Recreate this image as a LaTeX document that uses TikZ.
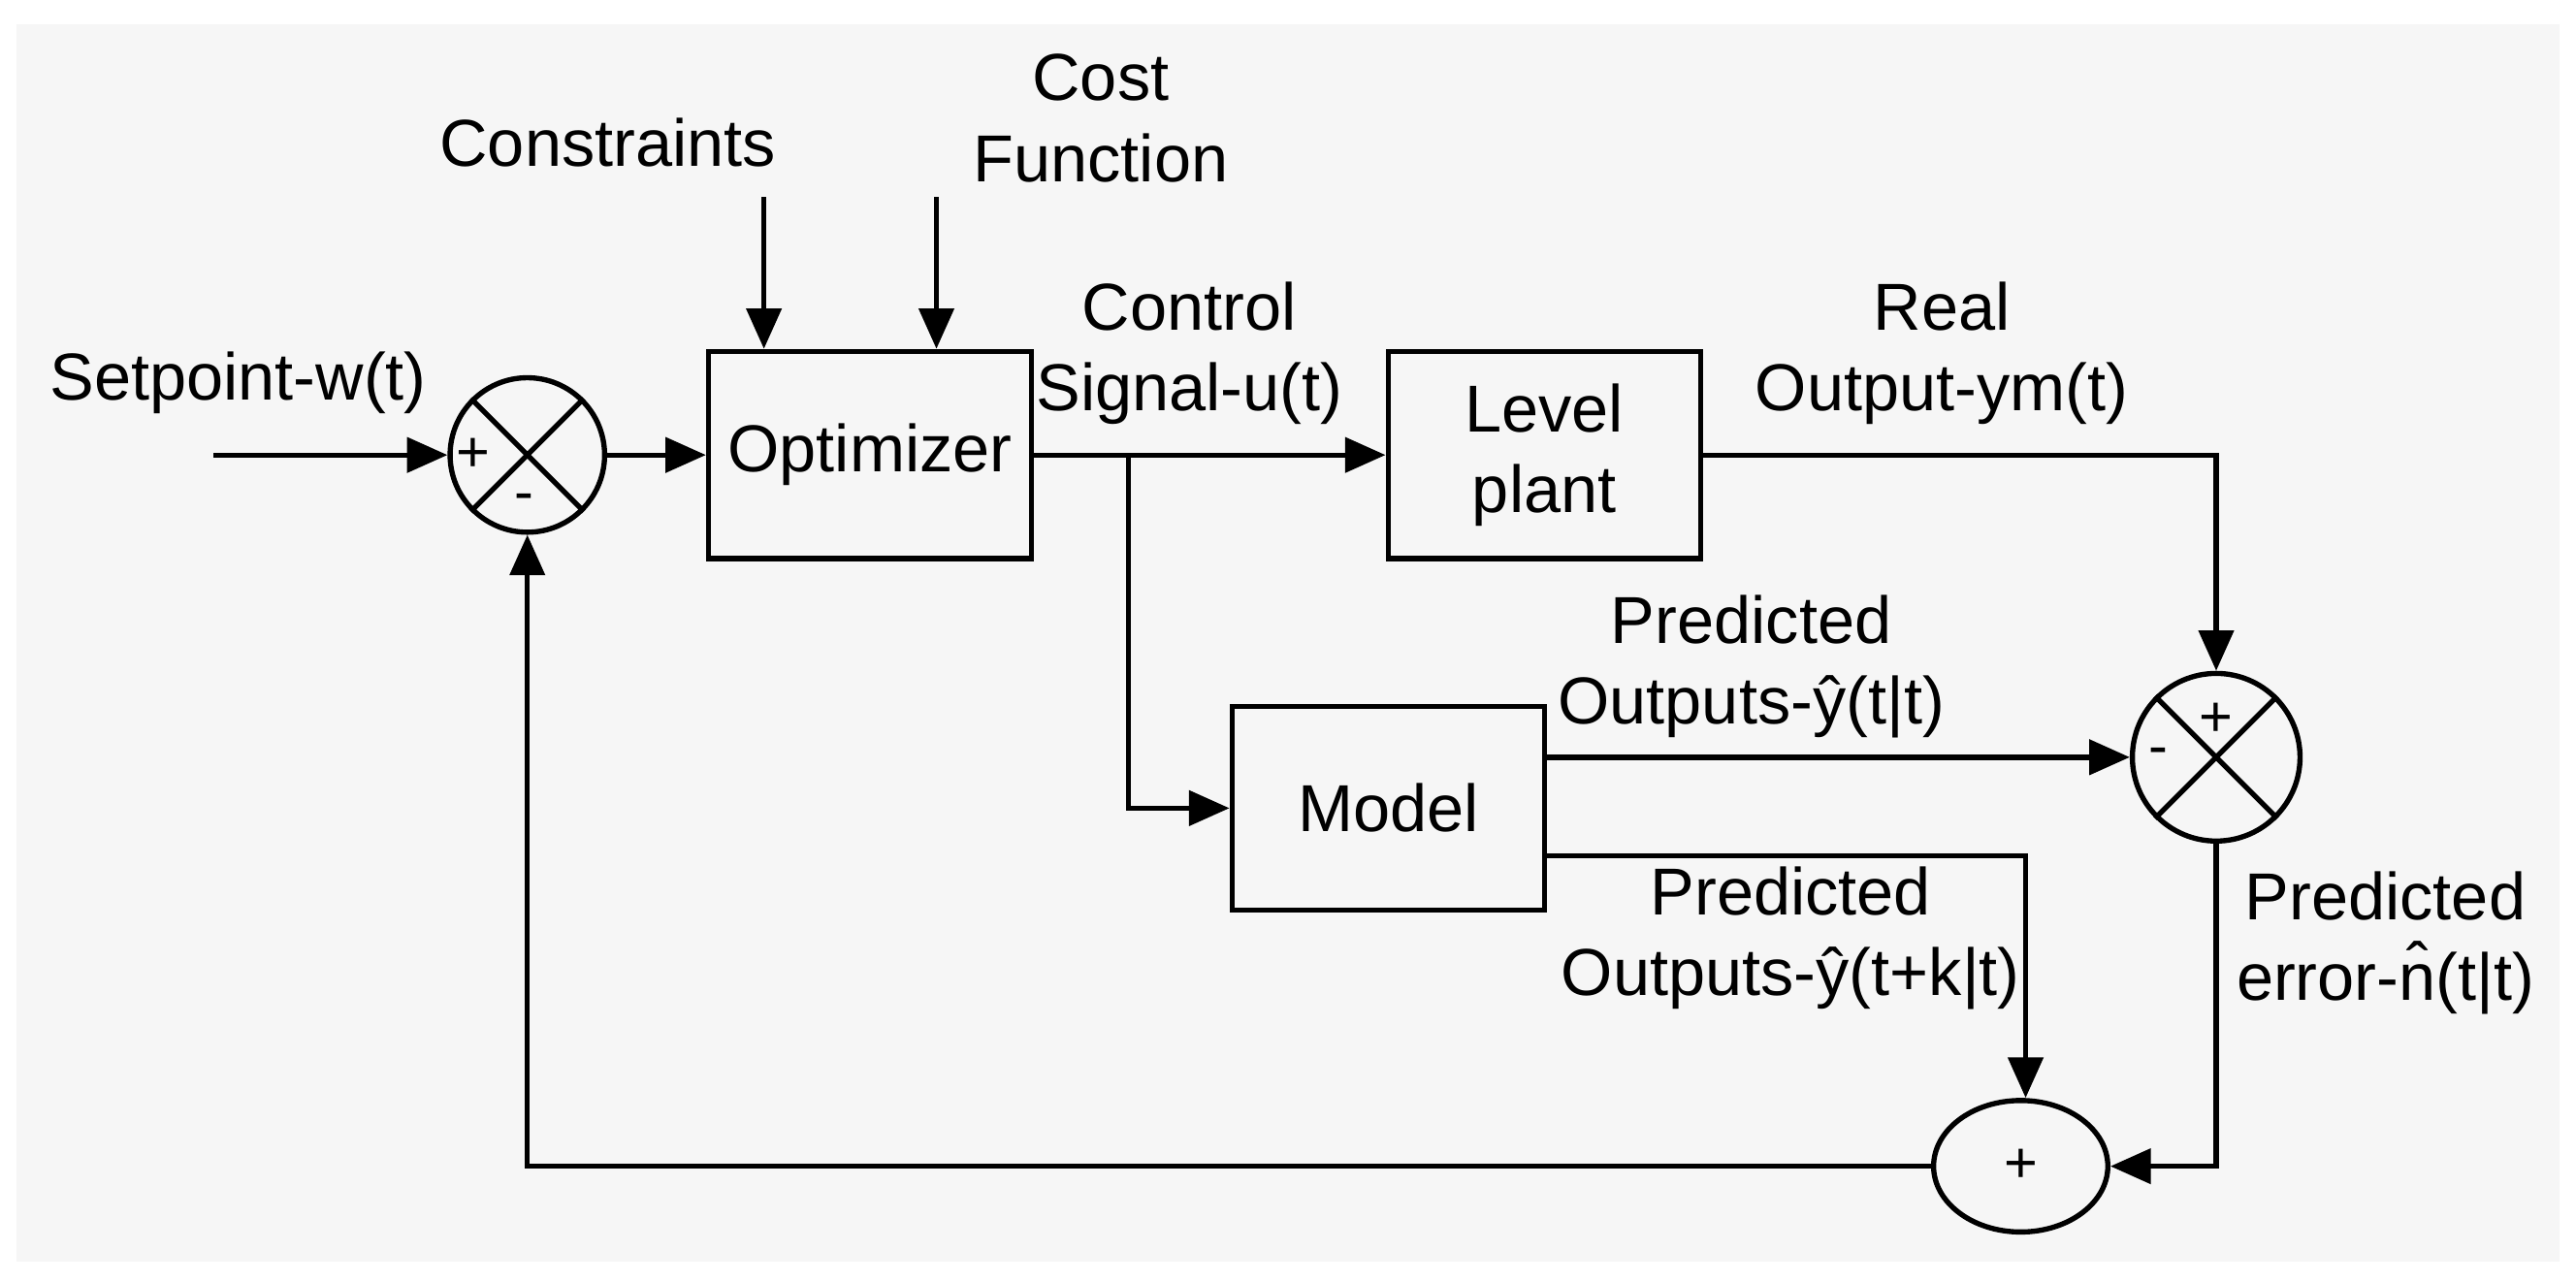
\documentclass[tikz,border=0pt]{standalone}
\usepackage{fontspec}
\setmainfont{Liberation Sans}
\usetikzlibrary{arrows.meta,shapes.geometric}
\begin{document}
\begin{tikzpicture}[x=0.01cm,y=-0.01cm,
  line width=0.9pt,
  every node/.style={font=\fontsize{11.5}{14}\selectfont},
  blk/.style={draw,minimum width=1.9cm,minimum height=1.26cm,align=center},
  sum/.style={draw,circle,minimum size=0.96cm,inner sep=0pt},
  arr/.style={-{Triangle[length=7pt,width=6pt]}},
  lbl/.style={align=center}]
\useasboundingbox (0,0) rectangle (1568,780);
\fill[gray!7] (10,15) rectangle (1558,768);
% blocks
\node[blk] (opt) at (529.5,277) {Optimizer};
\node[blk] (plant) at (940,277) {Level\\plant};
\node[blk,minimum height=1.24cm] (model) at (845,492) {Model};
% sum 1
\node[sum,minimum size=0.94cm] (s1) at (321,277) {};
\draw (s1.north west) -- (s1.south east) (s1.north east) -- (s1.south west);
\node[font=\fontsize{10}{12}\selectfont] (s1p) at (288,277) {+};
\node[font=\fontsize{10}{12}\selectfont] (s1m) at (319,306) {-};
% sum 2
\node[sum,minimum size=1.02cm] (s2) at (1349,461) {};
\draw (s2.north west) -- (s2.south east) (s2.north east) -- (s2.south west);
\node[font=\fontsize{10}{12}\selectfont] (s2p) at (1349,438) {+};
\node[font=\fontsize{10}{12}\selectfont] (s2m) at (1314,461) {-};
% sum 3
\node[draw,ellipse,minimum width=1.06cm,minimum height=0.8cm,inner sep=0pt,font=\fontsize{10}{12}\selectfont] (s3) at (1230,710) {+};
% inputs
\coordinate (sp) at (130,277);
\coordinate (c1) at (465,120);
\coordinate (c2) at (570,120);
\coordinate (br) at (687,277);
\coordinate (br2) at (687,492);
\coordinate (rc) at (1349,277);
\coordinate (mc) at (1233,521);
\coordinate (ec) at (1349,710);
\coordinate (fc) at (321,710);
\draw[arr] (sp) -- (s1.west);
\draw[arr] (s1.east) -- (opt.west);
\draw[arr] (c1) -- (c1 |- opt.north);
\draw[arr] (c2) -- (c2 |- opt.north);
\draw[arr] (opt.east) -- (plant.west);
\draw[arr] (br) -- (br2) -- (model.west);
\draw[arr] (plant.east) -- (rc) -- (s2.north);
\draw[arr] (model.east |- s2.west) -- (s2.west);
\draw[arr] (model.east |- mc) -- (mc) -- (s3.north -| mc);
\draw[arr] (s2.south) -- (ec) -- (s3.east);
\draw[arr] (s3.west) -- (fc) -- (s1.south);
% labels
\node[lbl] (l1) at (145,233) {Setpoint-w(t)};
\node[lbl] (l2) at (370,87) {Constraints};
\node[lbl] (l3) at (670,72) {Cost\\Function};
\node[lbl] (l4) at (724,215) {Control\\Signal-u(t)};
\node[lbl] (l5) at (1182,215) {Real\\Output-ym(t)};
\node[lbl] (l6) at (1066,406) {Predicted\\Outputs-\^{y}(t|t)};
\node[lbl] (l7) at (1090,571) {Predicted\\Outputs-\^{y}(t+k|t)};
\node[lbl] (l8) at (1452,574) {Predicted\\error-\^{n}(t|t)};
\end{tikzpicture}
\end{document}
